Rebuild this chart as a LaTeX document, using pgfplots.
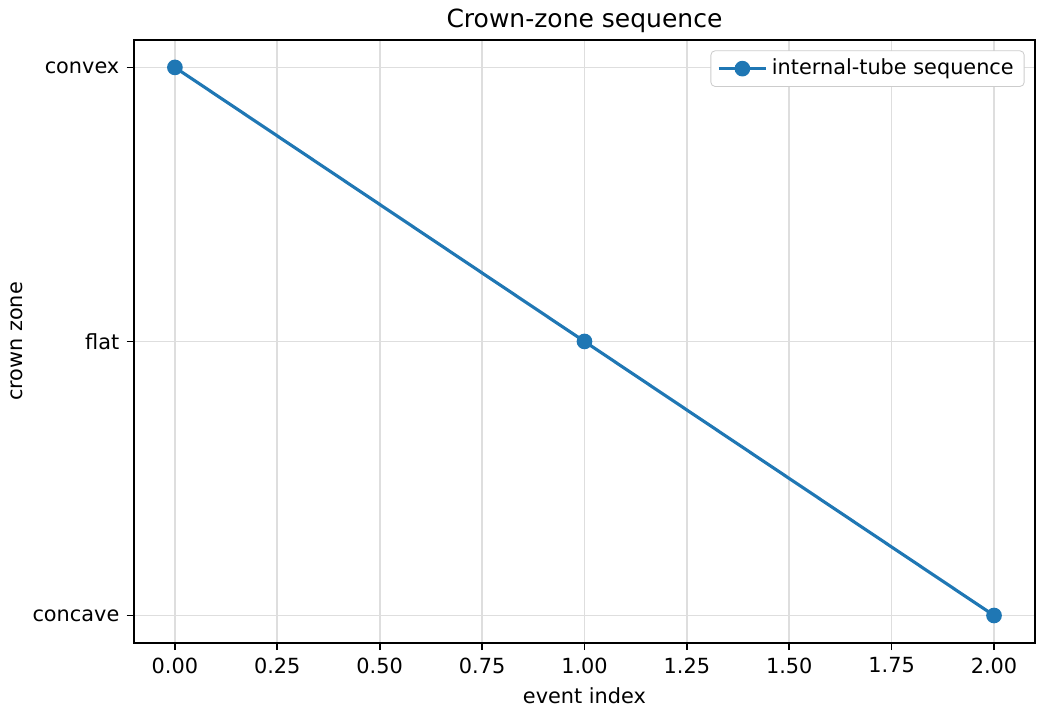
\documentclass[border=0pt]{standalone}
\usepackage{pgfplots}
\pgfplotsset{compat=1.18}
\usepackage{fontspec}
\setmainfont{DejaVu Sans}
\definecolor{C0}{HTML}{1F77B4}
\begin{document}
\fontsize{10pt}{12pt}\selectfont
\begin{tikzpicture}
\useasboundingbox (-64.3pt,-33.1pt) rectangle (437.3pt,308.6pt);
\begin{axis}[
  at={(0,0)}, anchor=south west,
  scale only axis, width=432.5pt, height=289.4pt,
  xmin=-0.1, xmax=2.1, ymin=-0.1, ymax=2.1,
  xtick={0,0.25,...,2.0},
  xticklabel style={/pgf/number format/.cd, fixed, fixed zerofill, precision=2},
  /pgf/number format/assume math mode=true,
  ytick={0,1,2}, yticklabels={concave,flat,convex},
  tick align=outside, tick pos=left,
  major tick length=3.5pt,
  every tick/.style={black, line width=0.8pt},
  axis line style={line width=0.8pt},
  grid=major,
  grid style={line width=0.8pt, color=black!13},
  xlabel={event index}, ylabel={crown zone},
  ylabel style={yshift=-2.4pt},
  title={\fontsize{12pt}{14pt}\selectfont Crown-zone sequence},
  title style={yshift=-6pt},
  legend style={at={(rel axis cs:1,1)}, anchor=north east, xshift=-5pt, yshift=-5pt,
    draw=black!20, rounded corners=2pt, font=\fontsize{10pt}{12pt}\selectfont,
    inner xsep=3pt, inner ysep=2pt},
  legend cell align=left,
  legend image code/.code={\draw[mark repeat=2,mark phase=2,#1] plot coordinates {(0cm,0cm)(0.4cm,0cm)(0.8cm,0cm)};},
]
\addplot[C0, line width=1.5pt, mark=*, mark size=3pt, mark options={solid, fill=C0, draw=C0}]
  coordinates {(0,2) (1,1) (2,0)};
\addlegendentry{internal-tube sequence}
\end{axis}
\end{tikzpicture}
\end{document}
